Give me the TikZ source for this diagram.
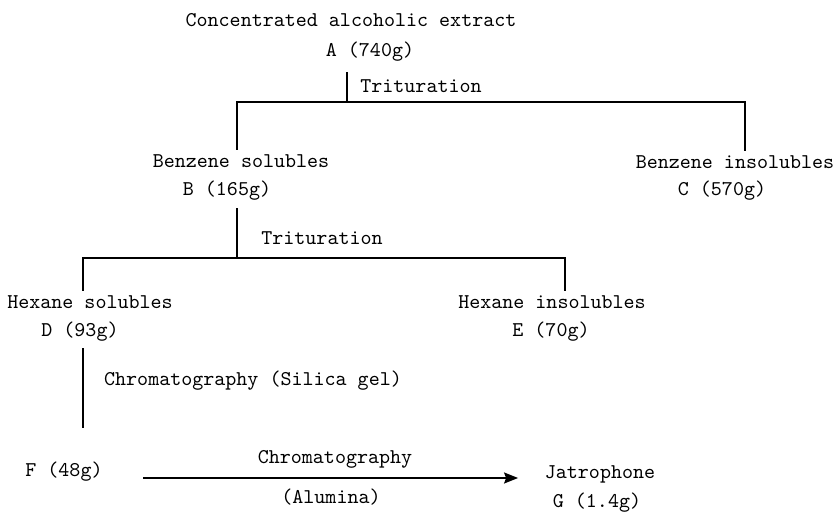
\documentclass[tikz,border=0pt]{standalone}
\usetikzlibrary{arrows.meta}

\begin{document}
\begin{tikzpicture}[x=0.5pt, y=-0.5pt,
    every node/.style={font=\ttfamily\fontsize{10.5}{12}\selectfont, inner sep=2pt},
    every path/.style={line width=0.8pt}]
            \useasboundingbox (0,0) rectangle (833,514);

            \node (top) at (351, 20) {Concentrated alcoholic extract};
            \node (A) at (370, 52) {A (740g)};
            \node (B1) at (241, 161) {Benzene solubles};
            \node (B) at (227, 191) {B (165g)};
            \node (C1) at (735, 162) {Benzene insolubles};
            \node (C) at (722, 191) {C (570g)};
            \node (D1) at (90, 302) {Hexane solubles};
            \node (D) at (80, 332) {D (93g)};
            \node (E1) at (552, 302) {Hexane insolubles};
            \node (E) at (551, 332) {E (70g)};
            \node (F) at (64, 472) {F (48g)};
            \node (G1) at (600, 474) {Jatrophone};
            \node (G) at (597, 503) {G (1.4g)};

            \node (t1) at (421, 86) {Trituration};
            \node (t2) at (322, 238) {Trituration};
            \node (c1) at (253, 381) {Chromatography (Silica gel)};
            \node (c2) at (335, 459) {Chromatography};
            \node (c3) at (331, 497) {(Alumina)};

            \coordinate (ab) at (347, 102);
            \coordinate (bc) at (237, 258);
            \coordinate (df) at (83, 428);

            \draw ([yshift=-3pt]A.south -| ab) -- (ab);
            \draw (B1.north -| 237,0) |- (ab) -| (C1.north -| 745,0);
            \draw ([yshift=-1.5pt]B.south -| bc) -- (bc);
            \draw (D1.north -| 83,0) |- (bc) -| (E1.north -| 565,0);
            \draw ([yshift=-1pt]D.south -| df) -- (df);
            \draw[-{Stealth[length=7pt, width=5.5pt, inset=1pt]}, shorten >=11pt] (143, 478) -- (G1.west |- 0,478);
        \end{tikzpicture}
\end{document}
